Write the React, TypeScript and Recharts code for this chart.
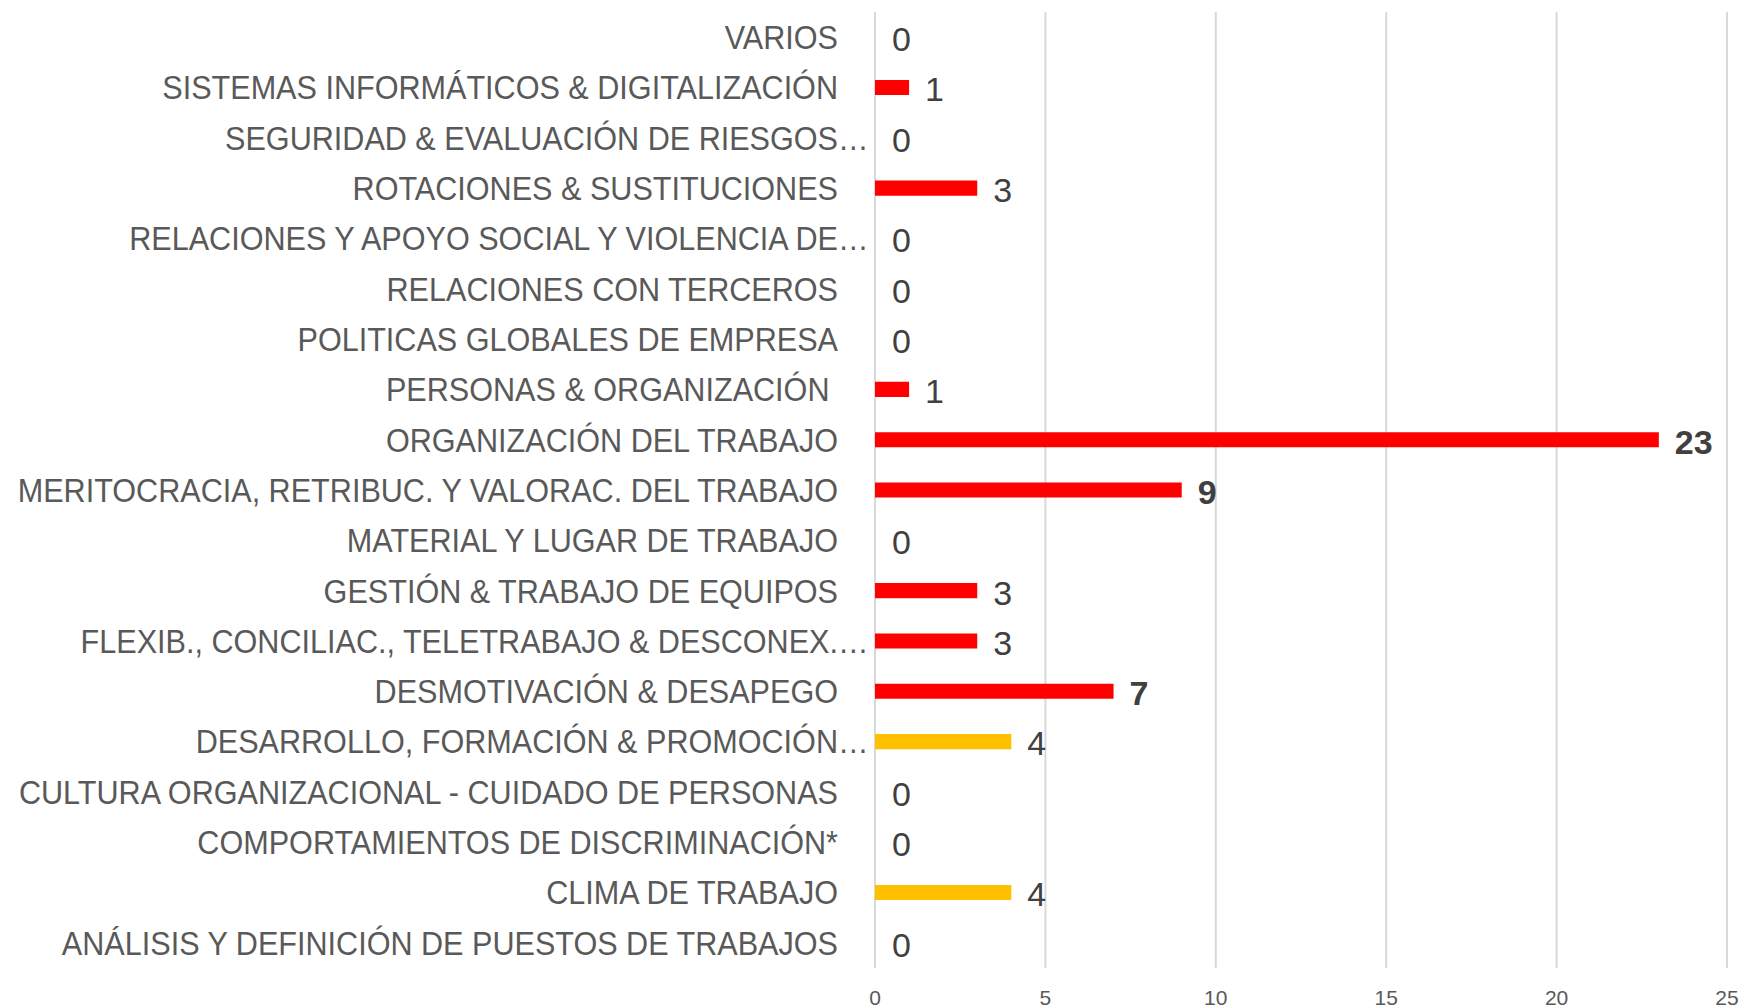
import { BarChart, Bar, XAxis, YAxis, CartesianGrid, Cell, LabelList } from 'recharts';

const categories = [
  'VARIOS',
  'SISTEMAS INFORMÁTICOS & DIGITALIZACIÓN',
  'SEGURIDAD & EVALUACIÓN DE RIESGOS…',
  'ROTACIONES & SUSTITUCIONES',
  'RELACIONES Y APOYO SOCIAL Y VIOLENCIA DE…',
  'RELACIONES CON TERCEROS',
  'POLITICAS GLOBALES DE EMPRESA',
  'PERSONAS & ORGANIZACIÓN ',
  'ORGANIZACIÓN DEL TRABAJO',
  'MERITOCRACIA, RETRIBUC. Y VALORAC. DEL TRABAJO',
  'MATERIAL Y LUGAR DE TRABAJO',
  'GESTIÓN & TRABAJO DE EQUIPOS',
  'FLEXIB., CONCILIAC., TELETRABAJO & DESCONEX.…',
  'DESMOTIVACIÓN & DESAPEGO',
  'DESARROLLO, FORMACIÓN & PROMOCIÓN…',
  'CULTURA ORGANIZACIONAL - CUIDADO DE PERSONAS',
  'COMPORTAMIENTOS DE DISCRIMINACIÓN*',
  'CLIMA DE TRABAJO',
  'ANÁLISIS Y DEFINICIÓN DE PUESTOS DE TRABAJOS',
];

const values = [0, 1, 0, 3, 0, 0, 0, 1, 23, 9, 0, 3, 3, 7, 4, 0, 0, 4, 0];

const highlighted = [
  'DESARROLLO, FORMACIÓN & PROMOCIÓN…',
  'CLIMA DE TRABAJO',
];

const xTicks = [0, 5, 10, 15, 20, 25];

const RED = '#FF0000';
const YELLOW = '#FFC000';
const FONT = '"Liberation Sans", Arial, sans-serif';

const data = categories.map((name, i) => ({ name, value: values[i] }));

function CategoryTick(props: any) {
  const { x, y, payload } = props;
  const label: string = payload.value;
  const cut = label.endsWith('…');
  const main = cut ? label.slice(0, -1) : label;
  return (
    <g transform={`translate(${x},${y}) scale(0.9,1)`}>
      <text x={0} y={0} dy="0.35em" textAnchor="end" fill="#595959" fontSize={34} fontFamily={FONT} xmlSpace="preserve">
        {main}
      </text>
      {cut && (
        <text x={0} y={0} dy="0.35em" textAnchor="start" fill="#595959" fontSize={34} fontFamily={FONT}>
          …
        </text>
      )}
    </g>
  );
}

function ValueLabel(props: any) {
  const { x, y, width, height, value } = props;
  const bold = value >= 5;
  return (
    <text
      x={x + width + 16}
      y={y + height / 2 + 2}
      dy="0.35em"
      fill="#404040"
      fontSize={34}
      fontWeight={bold ? 'bold' : 'normal'}
      fontFamily={FONT}
    >
      {value}
    </text>
  );
}

export default function App() {
  return (
    <div style={{ position: 'absolute', left: 0, top: 0, background: '#fff' }}>
      <BarChart
        width={1745}
        height={1008}
        data={data}
        layout="vertical"
        margin={{ top: 12, right: 18, bottom: 0, left: 0 }}
        barCategoryGap="65%"
      >
        <CartesianGrid horizontal={false} stroke="#D9D9D9" strokeWidth={2} />
        <XAxis
          type="number"
          domain={[0, 25]}
          ticks={xTicks}
          axisLine={false}
          tickLine={false}
          height={40}
          tickMargin={16}
          tick={{ fill: '#595959', fontSize: 21, fontFamily: FONT }}
        />
        <YAxis
          type="category"
          dataKey="name"
          width={875}
          axisLine={false}
          tickLine={false}
          interval={0}
          tick={<CategoryTick />}
          tickMargin={31}
        />
        <Bar dataKey="value" minPointSize={1} isAnimationActive={false}>
          {data.map((d, i) => (
            <Cell
              key={`c-${i}`}
              fill={d.value === 0 ? 'transparent' : highlighted.includes(d.name) ? YELLOW : RED}
            />
          ))}
          <LabelList dataKey="value" content={<ValueLabel />} />
        </Bar>
      </BarChart>
    </div>
  );
}
